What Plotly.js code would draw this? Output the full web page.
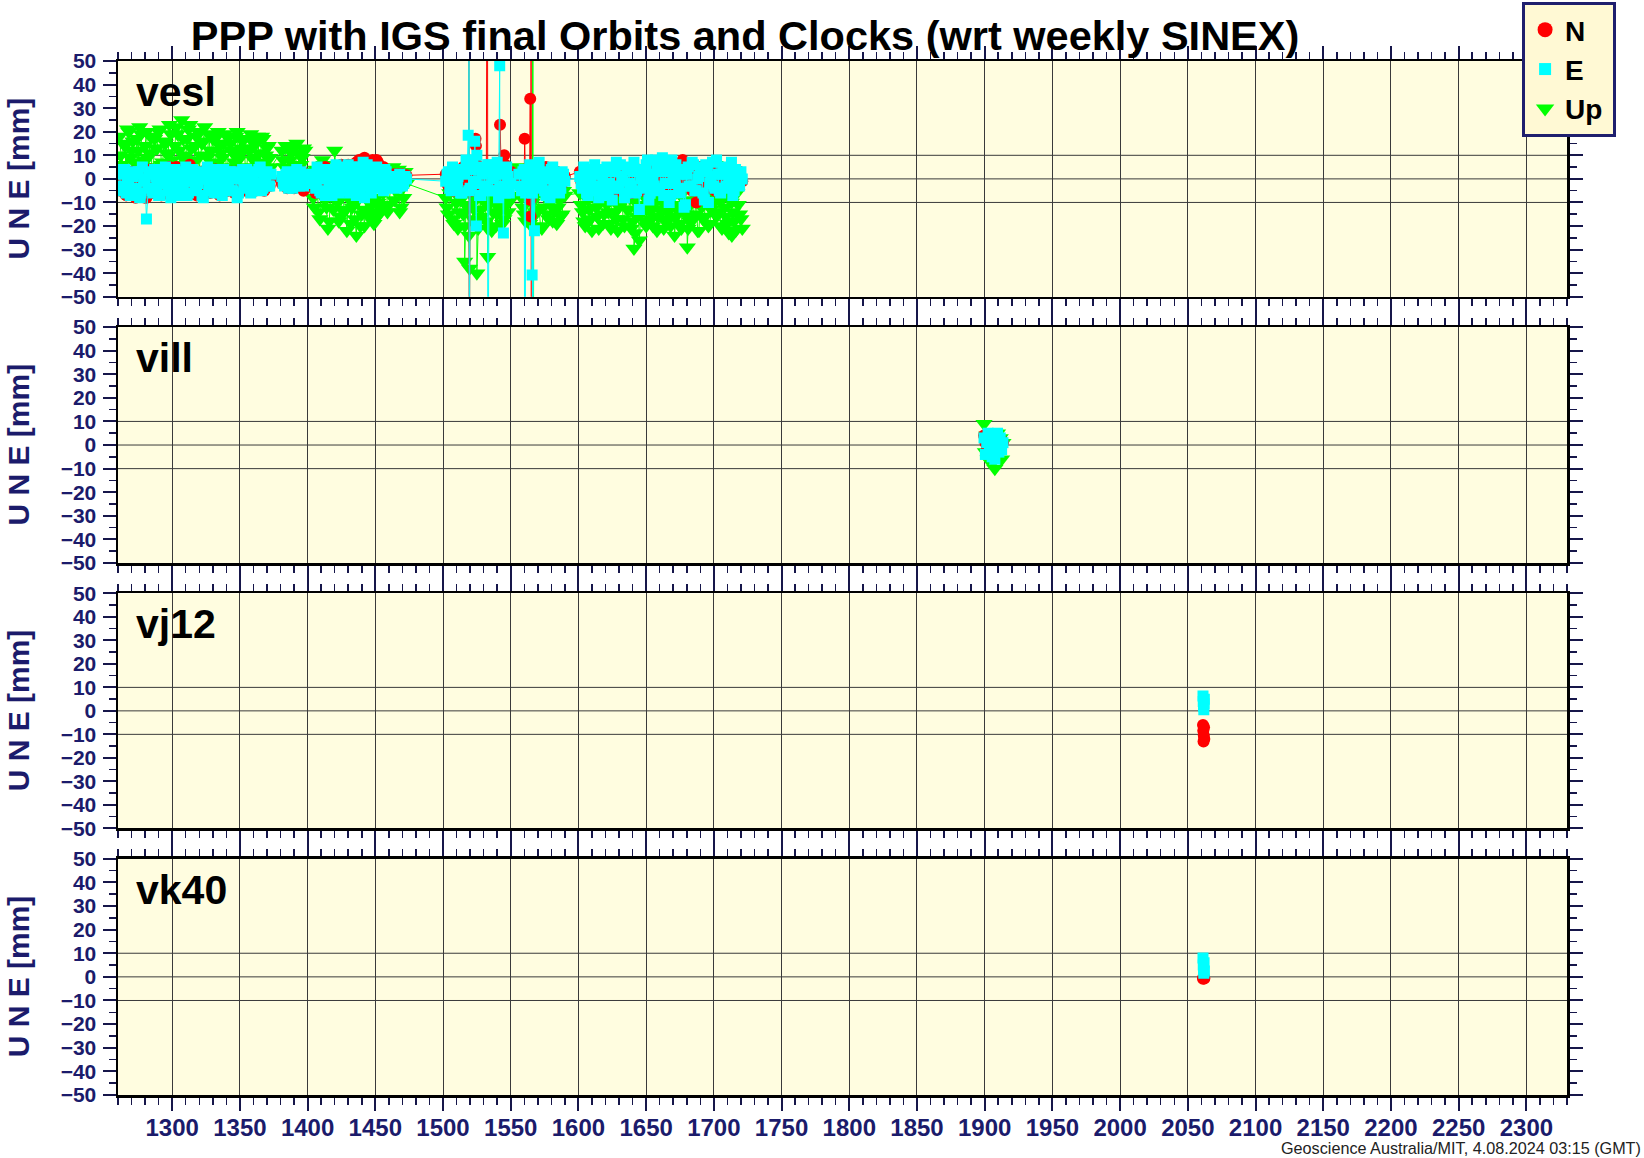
<!DOCTYPE html>
<html><head><meta charset="utf-8">
<script src="https://cdn.plot.ly/plotly-3.0.1.min.js"></script>
<style>html,body{margin:0;padding:0;background:#fff;}#chart{width:1644px;height:1158px;}</style>
</head><body><div id="chart"></div>
<script>
// ---------- DATA (GPS week, mm) ----------
// vesl, first set of daily solutions
const veslWeek = [
 1261,1263,1265,1267,1269,1271,1273,1275,1277,1279,1281,1283,1285,1287,1289,1291,1293,1295,1297,1299,
 1301,1303,1305,1307,1309,1311,1313,1315,1317,1319,1321,1323,1325,1327,1329,1331,1333,1335,1337,1339,
 1341,1343,1345,1347,1349,1351,1353,1355,1357,1359,1361,1363,1365,1367,1369,1371,1373,
 1381,1383,1385,1387,1389,1391,1393,1395,1397,1399,1401,
 1404,1406,1408,1410,1412,1414,1416,1418,1420,1422,1424,1426,1428,1430,1432,1434,1436,1438,1440,1442,
 1444,1446,1448,1450,1452,1454,1456,1458,1460,
 1463,1465,1467,1469,1471,1473,
 1502,1504,1506,1508,1510,1512,1514,1516,1518,1520,1522,1524,1526,1528,1530,1532,1534,1536,1538,1540,
 1542,1544,1546,1548,1550,
 1556,1558,1560,1562,1564,1566,1568,1570,1572,1574,1576,1578,1580,1582,1584,1586,1588,1590,
 1601,1603,1605,1607,1609,1611,1613,1615,1617,1619,1621,1623,1625,1627,1629,1631,1633,1635,1637,1639,
 1641,1643,1645,1647,1649,1651,1653,1655,1657,1659,1661,1663,1665,1667,1669,1671,1673,1675,1677,1679,
 1681,1683,1685,1687,1689,1691,1693,1695,1697,1699,1701,1703,1705,1707,1709,1711,1713,1715,1717,1719,1721
];
const veslN = [
 -3,2,-6,0,-4,3,-8,-2,-7,1,-8,-3,-6,2,-1,-5,1,-3,0,-6,
 2,5,-2,1,-4,3,6,0,-5,2,-2,-6,1,-3,3,-4,0,-7,2,-2,
 -5,1,-3,3,-6,0,-2,2,-4,1,-5,2,-1,-3,1,-2,0,
 -2,1,-4,2,-1,3,-3,0,-5,1,-2,
 -3,-6,0,3,-2,4,-1,2,-4,5,1,-3,3,6,0,-2,7,8,2,9,
 4,-1,8,3,7,1,5,-2,2,
 1,-1,2,0,1,1.5,
 2,-3,1,-5,3,-1,4,-4,2,-2,5,0,-3,3,-1,4,-4,1,-2,3,
 -3,2,6,-1,3,
 1,-2,3,-4,2,-1,4,0,-3,2,5,-2,1,-4,3,0,-2,1,
 3,-2,1,-5,2,-3,4,0,-4,2,-6,1,-2,3,-5,0,4,-3,1,-6,
 2,-1,3,-4,1,-2,5,-3,0,3,-5,1,-2,4,-4,0,2,-3,8,1,
 -2,3,-4,-10,0,2,-3,4,-1,3,-5,1,-2,4,-3,0,2,-4,1,3,-1
];
const veslE = [
 2,-5,4,-2,-7,1,-4,3,-6,0,-17,2,-5,4,-3,-7,1,5,-4,-8,
 2,-2,-6,3,-1,-7,1,4,-5,-2,3,-8,0,-4,2,-6,4,-3,-7,1,
 -2,3,-5,0,-6,2,-3,4,-1,-5,3,-2,5,-4,1,-3,2,
 1,-3,3,-1,-4,2,-2,3,-3,0,-1,
 1,-4,3,-6,0,4,-3,-7,2,-2,5,-5,1,6,-3,3,-7,5,-1,-8,
 6,0,-4,4,-2,2,-5,3,-1,
 -2,1,-3,0,-2,0,
 -1,3,-5,1,-3,4,-6,2,7,-4,8,-2,5,-7,3,-3,6,-5,2,7,
 -4,3,-6,1,-2,
 2,-5,4,-2,6,-6,1,5,-3,3,-7,0,4,-4,2,-6,3,-1,
 1,-4,3,-7,0,4,-3,-8,2,-5,5,-2,-9,3,-4,6,-1,-6,4,-3,
 7,-5,-13,2,-2,8,-6,1,8,-4,3,-7,5,-10,8,-2,4,-6,2,-11,
 5,-3,6,-5,1,5,-9,3,-2,7,-4,2,-6,4,-3,1,7,-5,2,-3,0
];
const veslUp = [
 18,6,14,21,9,16,4,12,19,8,20,11,5,17,13,21,7,15,10,19,
 4,22,12,25,8,17,23,6,14,20,10,16,3,19,12,7,18,14,9,19,
 5,15,11,18,8,13,17,4,12,16,9,18,6,17,10,14,5,
 12,5,14,8,13,2,11,6,13,3,-3,
 -8,4,-14,-5,6,-12,-18,-6,12,-10,-16,-3,-13,-8,-19,-11,-24,-6,-15,-20,
 -9,-14,-4,-17,-10,-13,-6,3,-11,
 5,-5,4,-12,-8,-2,
 -8,-15,-4,-19,-10,-14,-6,-20,-12,-5,-17,-9,-21,-13,-7,-18,-11,-22,-6,-15,
 -10,-19,-4,-14,-9,
 5,-8,-15,-4,-19,-10,-14,-6,-20,-12,-8,-17,-5,-13,-19,-9,-15,-7,
 -6,-14,-20,-9,-17,-5,-12,-21,-8,-15,-11,-19,-6,-14,-22,-10,-17,-7,-13,-21,
 -9,-16,-26,-11,-18,-6,-14,-20,-10,-16,-7,-21,-12,-17,-8,-24,-13,-19,-6,-15,
 -21,-10,-17,-7,-22,-12,-16,-5,-19,-11,6,-14,-20,-8,-16,-23,-10,-18,-6,-15,-21
];
// vesl, second set of daily solutions (in-between weeks)
const veslWeekB = [
 1262,1264,1266,1268,1270,1272,1274,1276,1278,1280,1282,1284,1286,1288,1290,1292,1294,1296,1298,1300,
 1302,1304,1306,1308,1310,1312,1314,1316,1318,1320,1322,1324,1326,1328,1330,1332,1334,1336,1338,1340,
 1342,1344,1346,1348,1350,1352,1354,1356,1358,1360,1362,1364,1366,1368,1370,1372,
 1382,1384,1386,1388,1390,1392,1394,1396,1398,1400,
 1405,1407,1409,1411,1413,1415,1417,1419,1421,1423,1425,1427,1429,1431,1433,1435,1437,1439,1441,1443,
 1445,1447,1449,1451,1453,1455,1457,1459,
 1464,1466,1468,1470,1472,
 1503,1505,1507,1509,1511,1513,1515,1517,1519,1521,1523,1525,1527,1529,1531,1533,1535,1537,1539,1541,
 1543,1545,1547,1549,
 1557,1559,1561,1563,1565,1567,1569,1571,1573,1575,1577,1579,1581,1583,1585,1587,1589,
 1602,1604,1606,1608,1610,1612,1614,1616,1618,1620,1622,1624,1626,1628,1630,1632,1634,1636,1638,1640,
 1642,1644,1646,1648,1650,1652,1654,1656,1658,1660,1662,1664,1666,1668,1670,1672,1674,1676,1678,1680,
 1682,1684,1686,1688,1690,1692,1694,1696,1698,1700,1702,1704,1706,1708,1710,1712,1714,1716,1718,1720
];
const veslNB = [
 -5,0,-7,3,-2,-6,1,-4,2,-8,-1,4,-3,-5,0,-7,3,-1,5,-4,
 -2,1,-6,4,-3,0,-5,2,-7,-1,3,-4,1,-6,0,4,-3,-1,2,-5,
 -2,3,-6,1,-3,0,-5,2,-1,-4,3,-2,0,-5,1,-3,
 0,-3,2,-1,-4,1,-2,3,-3,-1,
 2,-4,1,-2,5,-3,3,0,-5,2,6,-1,4,1,-3,5,7,0,6,3,
 -2,6,2,8,4,-1,3,0,
 2,0,1,2,0,
 -2,3,-4,0,2,-3,5,-1,1,-5,3,6,-2,2,-4,5,0,-3,2,-2,
 4,-1,1,-3,
 -1,2,-3,1,-2,3,-4,1,0,-2,3,-1,2,-3,1,-1,2,
 -1,2,-4,3,0,-3,1,-5,2,-2,4,-1,-4,1,3,-2,0,-5,2,-3,
 1,4,-2,-5,3,0,-3,6,-1,2,-4,1,-2,3,-6,2,0,-3,4,-1,
 2,-5,1,-2,5,-3,0,2,-4,1,-2,4,-1,-3,2,0,-4,3,-2,1
];
const veslEB = [
 -3,4,-6,0,3,-5,2,-8,5,-1,-4,3,-6,1,-7,4,-2,2,-5,0,
 4,-7,1,-3,5,-6,-1,3,-4,2,-7,0,5,-2,-5,3,-1,-6,4,-3,
 1,-5,3,-8,0,4,-4,2,-6,1,-2,4,-5,0,3,-3,
 -2,2,-4,1,-1,4,-3,1,-2,2,
 -2,5,-5,2,-7,3,0,-4,6,-6,1,4,-2,-6,5,-1,2,-5,7,-3,
 3,-6,1,5,-3,-1,4,-4,
 -1,-4,2,-3,1,
 2,-4,5,-2,1,-6,3,8,-5,4,-1,10,-7,2,-3,6,-5,0,4,-8,
 2,-3,5,-6,
 -3,3,-6,1,-2,4,-4,7,-1,-5,2,-8,5,-2,1,-4,2,
 -2,5,-6,1,-3,6,-5,2,-1,4,-7,3,-3,7,-4,1,-8,5,-2,3,
 -6,4,0,-4,6,-9,2,-3,5,-5,9,-2,3,-7,1,6,-4,4,-12,2,
 -3,7,-5,0,3,-6,6,-10,1,-3,8,-5,2,-4,5,-2,-7,4,-1,3
];
const veslUpB = [
 10,15,3,20,12,7,17,22,5,14,9,18,2,13,20,6,16,11,23,8,
 14,19,6,17,10,21,13,8,18,4,15,22,9,12,17,6,20,11,15,3,
 18,12,7,20,10,16,5,13,19,8,15,11,18,7,13,9,
 8,14,3,11,6,15,1,9,12,-1,
 -12,-2,-17,8,-9,-21,-7,-13,3,-18,-8,-14,-22,-5,-12,-17,-9,-20,-13,-7,
 -16,-11,-19,-8,-15,-12,-4,-14,
 -9,1,-14,-4,3,
 -12,-6,-17,-3,-21,-9,-15,-11,-24,-7,-13,-19,-5,-16,-10,-21,-8,-14,-20,-12,
 -6,-17,-11,-7,
 -3,-12,-18,2,-9,-16,-4,-13,-21,-7,-15,-10,-18,-3,-12,-16,-5,
 -11,-18,-4,-13,-22,-8,-16,-10,-19,-5,-14,-21,-9,-17,-12,-6,-20,-13,-8,-18,
 -23,-11,-15,-7,-20,-12,-17,-5,-22,-13,-9,-18,-14,-20,-6,-16,-11,-21,-9,-13,
 -18,-5,-15,-22,-10,-17,-8,-20,-13,-3,-16,-9,-21,-12,-19,-7,-14,-22,-11,-17
];
// outliers / off-scale daily solutions
const veslNExtraWeek = [1519.14,1519.29,1524.0,1524.3,1532.75,1542.1,1545.2,1560.3,1564.4,1564.55,1564.7,1565.0,1565.15];
const veslNExtra     = [120,-110,17,14,150,23,10,17,34,-9,-16,150,-150];
const veslEExtraWeek = [1518.6,1519.2,1519.35,1523.5,1524.6,1533.0,1541.86,1544.6,1560.45,1565.8,1566.2,1567.5];
const veslEExtra     = [18.5,100,-100,16,-20,-150,48,-23,-150,-40.8,-120,-22];
const veslUpExtraWeek = [1516.0,1519.6,1525.0,1533.0,1566.4,1566.6,1641.0,1680.4,1713.3];
const veslUpExtra     = [-35,-38,-40,-33,120,-120,-29.5,-29,-24];

const villWeek = [1899.5,1900.5,1901.5,1902.5,1903.5,1904.5,1905.5,1906.5,1907.5,1908.5,1909.5,1910.5,1911.5,1912.5,1913.5];
const villN  = [4,1,-2,2,-1,0,3,-2,1,-3,2,0,-1,2,1];
const villE  = [3,-4,1,5,-2,4,-5,2,-6,0,5,-3,3,-2,1];
const villUp = [9,-3,4,-6,2,-1,3,-7,-10,-4,5,-2,3,-6,1];

const vj12Week = [2061.2,2061.4,2061.6,2061.8,2062.0,2062.2];
const vj12N = [-6,-8.5,-13,-10.5,-7,-12];
const vj12E = [6.3,4,2,0.5,3,5];

const vk40Week = [2061.2,2061.4,2061.6,2061.8,2062.0,2062.2];
const vk40N = [-0.8,-0.5,0,-0.6,-0.3,-0.7];
const vk40E = [8,5,3,1.5,6,2.5];

const stationNames = ['vesl','vill','vj12','vk40'];
const seriesNames = ['N', 'E', 'Up'];
const xTickStart = 1300, xTickStep = 50, xRange = [1260, 2330];
const yRange = [-50, 50];
const hGrid = [-10, 0, 10];

// ---------- BUILD ----------
function merge(sets) {
  const pts = [];
  sets.forEach(([w, v]) => w.forEach((x, i) => pts.push([x, v[i]])));
  pts.sort((a, b) => a[0] - b[0]);
  return {x: pts.map(p => p[0]), y: pts.map(p => p[1])};
}
const COL = {N: '#ff0000', E: '#00ffff', Up: '#00ff00'};
const SYM = {N: 'circle', E: 'square', Up: 'triangle-down'};
const SIZE = {N: 12, E: 11, Up: 15};
const LEGSIZE = {N: 15, E: 12, Up: 16};
const RANK = {N: 1, E: 2, Up: 3};

const panelData = [
  {Up: merge([[veslWeek, veslUp], [veslWeekB, veslUpB], [veslUpExtraWeek, veslUpExtra]]),
   N: merge([[veslWeek, veslN], [veslWeekB, veslNB], [veslNExtraWeek, veslNExtra]]),
   E: merge([[veslWeek, veslE], [veslWeekB, veslEB], [veslEExtraWeek, veslEExtra]])},
  {Up: merge([[villWeek, villUp]]), N: merge([[villWeek, villN]]), E: merge([[villWeek, villE]])},
  {N: merge([[vj12Week, vj12N]]), E: merge([[vj12Week, vj12E]])},
  {N: merge([[vk40Week, vk40N]]), E: merge([[vk40Week, vk40E]])}
];

const traces = [];
panelData.forEach((pd, i) => {
  const xa = i === 0 ? 'x' : 'x' + (i + 1);
  const ya = i === 0 ? 'y' : 'y' + (i + 1);
  ['Up', 'N', 'E'].forEach(k => {
    if (!pd[k]) return;
    traces.push({type: 'scatter', mode: 'lines', x: pd[k].x, y: pd[k].y, xaxis: xa, yaxis: ya,
      line: {color: COL[k], width: 1}, showlegend: false, hoverinfo: 'skip'});
    traces.push({type: 'scatter', mode: 'markers', x: pd[k].x, y: pd[k].y, xaxis: xa, yaxis: ya,
      showlegend: false, marker: {color: COL[k], symbol: SYM[k], size: SIZE[k], line: {width: 0}}});
  });
});
// legend keys (no data points, only the key symbol)
seriesNames.forEach(k => traces.push({type: 'scatter', mode: 'markers', x: [null], y: [null],
  name: k === 'Up' ? 'Up\u2009' : k, legendrank: RANK[k], showlegend: true,
  marker: {color: COL[k], symbol: SYM[k], size: LEGSIZE[k], line: {width: 0}}}));

const FONT = 'Liberation Sans, Arial, Helvetica, sans-serif';
const NAVY = '#1b1b6b';
const TICKC = '#16164a';
const GRIDC = '#3a3a3a';
const domains = [[0.7720, 1], [0.5145, 0.7427], [0.2579, 0.4851], [0, 0.2285]];

const layout = {
  width: 1644, height: 1158,
  margin: {l: 118, r: 77, t: 61, b: 63, pad: 0, autoexpand: false},
  paper_bgcolor: '#ffffff', plot_bgcolor: '#fffde0',
  showlegend: true,
  title: {text: 'PPP with IGS final Orbits and Clocks (wrt weekly SINEX)',
    font: {family: FONT, size: 41.5, color: '#000', weight: 'bold'},
    x: 0.4532, xref: 'container', xanchor: 'center', y: 0.9697, yref: 'container', yanchor: 'middle'},
  legend: {x: 0.969, y: 1.0571, xanchor: 'left', yanchor: 'top', bgcolor: '#fff9d4',
    bordercolor: '#1f1f6e', borderwidth: 3, font: {family: FONT, size: 28, color: '#000', weight: 'bold'},
    traceorder: 'normal', itemsizing: 'trace'},
  annotations: [], shapes: []
};

for (let i = 0; i < 4; i++) {
  const sx = i === 0 ? '' : String(i + 1);
  layout['xaxis' + sx] = {
    domain: [0, 1], anchor: 'y' + sx, range: xRange, tick0: xTickStart, dtick: xTickStep,
    ticks: 'outside', ticklen: 13, tickwidth: 2, tickcolor: TICKC,
    showline: true, linecolor: '#000', linewidth: 2.5, mirror: 'ticks',
    showgrid: true, gridcolor: GRIDC, gridwidth: 1, zeroline: false,
    showticklabels: i === 3, ticklabelstandoff: -3,
    tickfont: {family: FONT, size: 24, color: NAVY, weight: 'bold'},
    minor: {dtick: 10, ticks: 'outside', ticklen: 7, tickwidth: 1.5, tickcolor: TICKC, showgrid: false}
  };
  layout['yaxis' + sx] = {
    domain: domains[i], anchor: 'x' + sx, range: yRange, tick0: 0, dtick: 10,
    ticks: 'outside', ticklen: 13, tickwidth: 2, tickcolor: TICKC,
    showline: true, linecolor: '#000', linewidth: 2.5, mirror: 'ticks',
    showgrid: false, zeroline: false, ticklabelstandoff: 2,
    tickfont: {family: FONT, size: 21, color: NAVY, weight: 'bold'},
    minor: {dtick: 5, ticks: 'outside', ticklen: 7, tickwidth: 1.5, tickcolor: TICKC, showgrid: false}
  };
  hGrid.forEach(v => layout.shapes.push({type: 'line', xref: 'x' + sx + ' domain', yref: 'y' + sx,
    x0: 0, x1: 1, y0: v, y1: v, line: {color: GRIDC, width: 1}, layer: 'below'}));
  layout.annotations.push({text: stationNames[i], xref: 'x' + sx + ' domain', yref: 'y' + sx + ' domain',
    x: 0.0107, y: 1 - 31 / 236, xanchor: 'left', yanchor: 'middle', showarrow: false,
    font: {family: FONT, size: 41, color: '#000', weight: 'bold'}});
  layout.annotations.push({text: 'U N E [mm]', xref: 'paper', yref: 'y' + sx + ' domain',
    x: -118 / 1449, y: 0.5, xanchor: 'left', yanchor: 'middle', textangle: -90, showarrow: false,
    font: {family: FONT, size: 30, color: NAVY, weight: 'bold'}});
}
layout.annotations.push({text: 'Geoscience Australia/MIT, 4.08.2024 03:15 (GMT)', xref: 'paper', yref: 'paper',
  x: 1.0518, y: -63 / 1034, xanchor: 'right', yanchor: 'bottom', showarrow: false, borderpad: 0,
  font: {family: FONT, size: 16.2, color: '#222'}});

Plotly.newPlot('chart', traces, layout, {displayModeBar: false, staticPlot: true});
</script></body></html>
